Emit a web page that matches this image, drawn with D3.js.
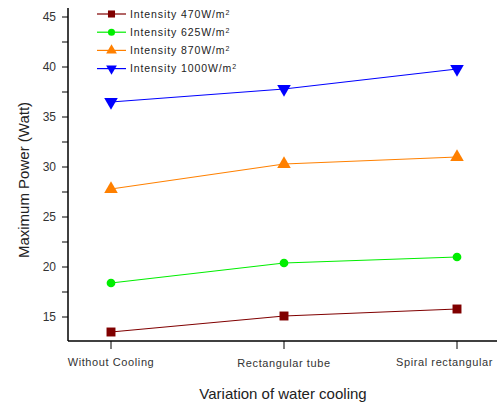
<!DOCTYPE html>
<html>
<head>
<meta charset="utf-8">
<script src="https://cdn.jsdelivr.net/npm/d3@7"></script>
<style>
  body { margin: 0; background: #fff; }
  svg { display: block; font-family: Arial, "Liberation Sans", sans-serif; }
</style>
</head>
<body>
<svg id="chart" width="498" height="407"></svg>
<script>
const categories = ["Without Cooling", "Rectangular tube", "Spiral rectangular"];
const seriesNames = ["470", "625", "870", "1000"];
const p470 = [13.5, 15.1, 15.8];
const p625 = [18.4, 20.4, 21.0];
const p870 = [27.8, 30.3, 31.0];
const p1000 = [36.5, 37.8, 39.8];
const yTicks = [15, 20, 25, 30, 35, 40, 45];
const colors = ["#800000", "#00ee00", "#ff8000", "#0000ff"];
const symbols = [d3.symbolSquare, d3.symbolCircle, d3.symbolTriangle, d3.symbolTriangle];

const series = [p470, p625, p870, p1000].map((v, i) => ({ name: seriesNames[i], values: v }));

const svg = d3.select("#chart");
const axLeft = 68, axBottom = 341, axTop = 8, axRight = 497;

const x = d3.scalePoint().domain(categories).range([111, 457]);
const y = d3.scaleLinear().domain([12.6, 45.9]).range([axBottom, axTop]);

// y axis
const yAxis = svg.append("g").attr("transform", `translate(${axLeft},0)`);
yAxis.append("line").attr("y1", axTop).attr("y2", axBottom).attr("stroke", "#000").attr("stroke-width", 1.5);
const minor = d3.range(12.5, 46, 2.5).filter(v => y(v) <= axBottom && y(v) >= axTop);
yAxis.selectAll(".tk").data(minor).join("line")
  .attr("x1", -6).attr("x2", 0)
  .attr("y1", d => y(d)).attr("y2", d => y(d))
  .attr("stroke", "#000").attr("stroke-width", 1);
yAxis.selectAll("text").data(yTicks).join("text")
  .attr("x", -12).attr("y", d => y(d)).attr("dy", "0.35em")
  .attr("text-anchor", "end").attr("font-size", 12).attr("fill", "#333")
  .text(d => d);

// x axis
const xAxis = svg.append("g").attr("transform", `translate(0,${axBottom})`);
xAxis.append("line").attr("x1", axLeft).attr("x2", axRight).attr("stroke", "#000").attr("stroke-width", 1.5);
xAxis.selectAll(".tk").data(categories).join("line")
  .attr("x1", d => x(d)).attr("x2", d => x(d)).attr("y1", 0).attr("y2", 8)
  .attr("stroke", "#000");
// last label is pushed left so it stays inside the frame
xAxis.selectAll("text").data(categories).join("text")
  .attr("x", (d, i) => i === 2 ? 493 : x(d)).attr("y", (d, i) => i === 1 ? 26 : 25)
  .attr("text-anchor", (d, i) => i === 2 ? "end" : "middle")
  .attr("font-size", 11).attr("fill", "#333")
  .attr("letter-spacing", "0.6px")
  .text(d => d);

// axis titles
svg.append("text").attr("x", 283).attr("y", 399).attr("text-anchor", "middle")
  .attr("font-size", 15).attr("fill", "#222").text("Variation of water cooling");
svg.append("text").attr("transform", "translate(29,180) rotate(-90)").attr("text-anchor", "middle")
  .attr("font-size", 15).attr("fill", "#222").text("Maximum Power (Watt)");

// lines and markers
const line = d3.line().x((d, i) => x(categories[i])).y(d => y(d));
series.forEach((s, i) => {
  svg.append("path").attr("d", line(s.values)).attr("fill", "none")
    .attr("stroke", colors[i]).attr("stroke-width", 1.2);
  svg.selectAll(".m" + i).data(s.values).join("path")
    .attr("transform", (d, j) => `translate(${x(categories[j])},${y(d)})${i === 3 ? " rotate(180)" : ""}`)
    .attr("d", d3.symbol().type(symbols[i]).size(i === 1 ? 60 : 80))
    .attr("fill", colors[i]);
});

// legend
const lg = svg.append("g");
series.forEach((s, i) => {
  const yy = 14 + i * 18.2;
  lg.append("line").attr("x1", 97).attr("x2", 126).attr("y1", yy).attr("y2", yy)
    .attr("stroke", colors[i]).attr("stroke-width", 1.2);
  lg.append("path").attr("transform", `translate(111.5,${yy})${i === 3 ? " rotate(180)" : ""}`)
    .attr("d", d3.symbol().type(symbols[i]).size(i === 1 ? 40 : 50)).attr("fill", colors[i]);
  const t = lg.append("text").attr("x", 130).attr("y", yy).attr("dy", "0.35em")
    .attr("font-size", 10.5).attr("fill", "#222").attr("letter-spacing", "0.9px");
  t.append("tspan").text(`Intensity ${s.name}W/m`);
  t.append("tspan").attr("dy", "-0.45em").attr("font-size", 7).text("2");
});
</script>
</body>
</html>
